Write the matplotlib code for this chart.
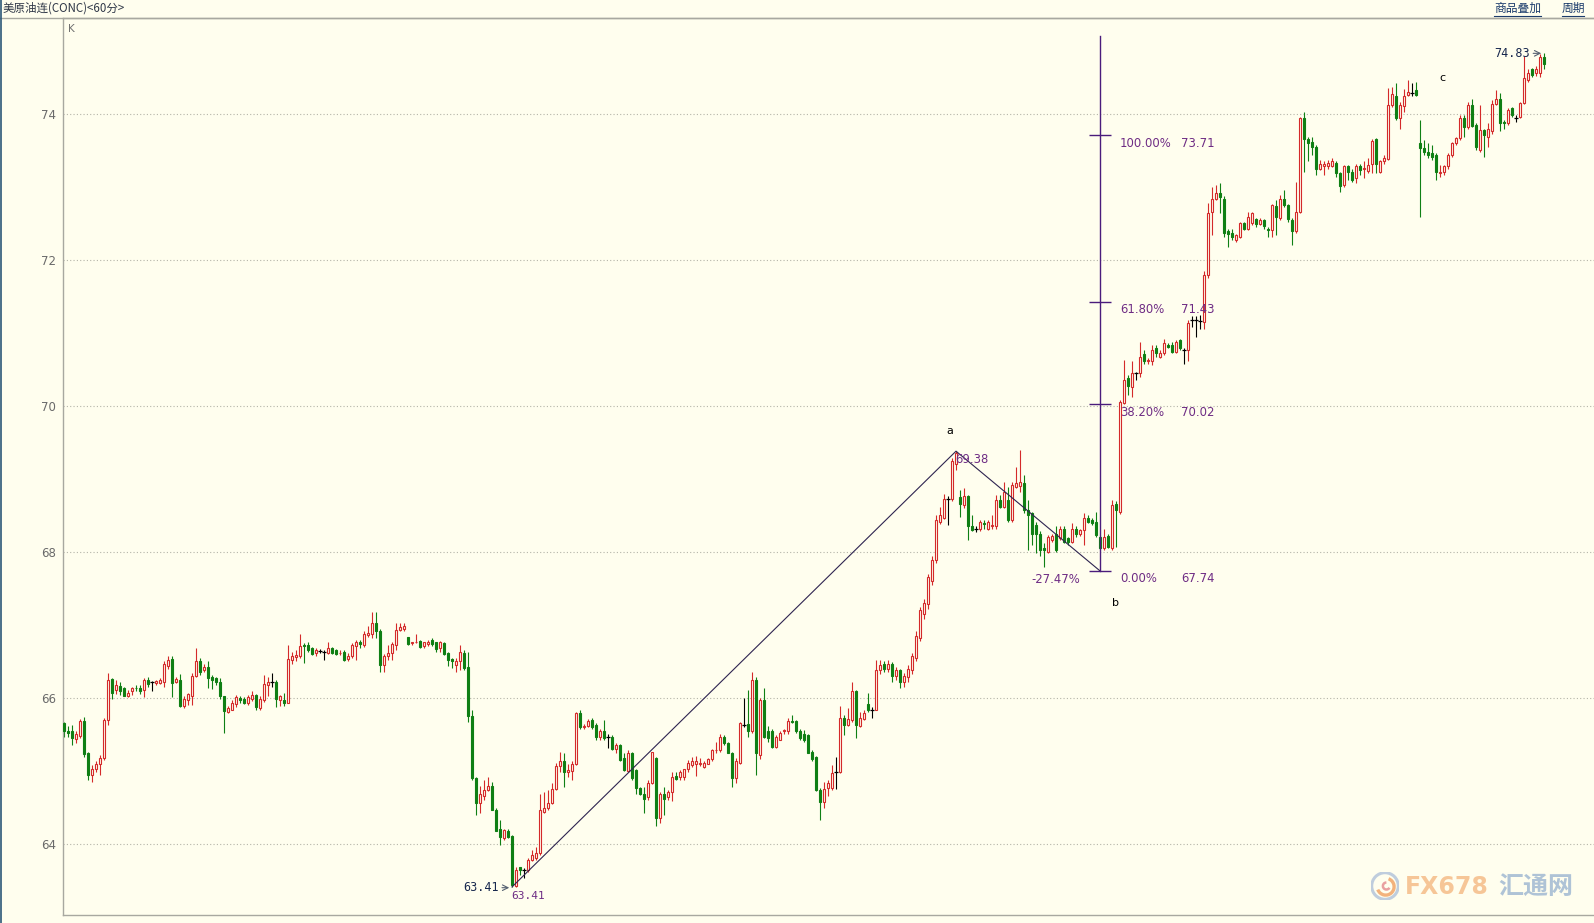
#!/usr/bin/env python3
"""
60-minute candles of US crude (CONC) with an a-b-c Fibonacci projection,
redrawn in the style of the trading terminal screenshot.
"""

import numpy as np
import matplotlib
matplotlib.use("Agg")
import matplotlib.pyplot as plt
from matplotlib.lines import Line2D
from matplotlib.patches import Arc, Circle

CJK = ["Noto Sans CJK SC", "DejaVu Sans"]

# OHLC of every 60-minute bar, left to right
OPEN = [
    65.66, 65.55, 65.54, 65.44, 65.48, 65.68, 65.25, 64.94, 65.02, 65.09,
    65.18, 65.70, 66.26, 66.11, 66.16, 66.13, 66.02, 66.09, 66.14, 66.14,
    66.11, 66.25, 66.22, 66.20, 66.21, 66.22, 66.44, 66.53, 66.22, 66.25,
    65.89, 65.97, 66.03, 66.30, 66.50, 66.38, 66.42, 66.28, 66.27, 66.22,
    66.02, 65.81, 65.83, 65.92, 66.00, 65.98, 65.93, 65.98, 66.04, 65.86,
    65.97, 66.18, 66.22, 66.22, 65.97, 65.97, 65.93, 66.52, 66.56, 66.57,
    66.72, 66.72, 66.68, 66.61, 66.64, 66.63, 66.62, 66.68, 66.65, 66.61,
    66.63, 66.53, 66.57, 66.71, 66.77, 66.72, 66.86, 66.88, 67.03, 66.92,
    66.45, 66.57, 66.61, 66.72, 66.93, 66.95, 66.83, 66.75, 66.76, 66.78,
    66.71, 66.74, 66.79, 66.76, 66.68, 66.75, 66.62, 66.53, 66.45, 66.50,
    66.62, 66.42, 65.75, 64.90, 64.56, 64.66, 64.74, 64.79, 64.47, 64.20,
    64.08, 64.18, 64.11, 63.42, 63.68, 63.64, 63.64, 63.78, 63.80, 63.87,
    64.44, 64.49, 64.56, 64.75, 65.07, 65.13, 64.98, 65.00, 65.09, 65.80,
    65.60, 65.62, 65.70, 65.63, 65.46, 65.54, 65.47, 65.47, 65.30, 65.35,
    65.17, 65.00, 65.25, 65.01, 64.76, 64.69, 64.64, 64.83, 65.17, 64.35,
    64.68, 64.64, 64.71, 64.93, 64.92, 64.91, 65.02, 65.08, 65.10, 65.10,
    65.06, 65.10, 65.16, 65.28, 65.28, 65.47, 65.38, 65.25, 64.90, 65.11,
    65.63, 65.64, 65.54, 66.25, 65.22, 65.97, 65.55, 65.55, 65.33, 65.43,
    65.54, 65.55, 65.69, 65.69, 65.55, 65.50, 65.49, 65.26, 65.19, 64.74,
    64.58, 64.76, 64.76, 64.99, 64.98, 65.72, 65.63, 65.70, 66.09, 65.62,
    65.71, 65.92, 65.84, 65.84, 66.38, 66.46, 66.40, 66.47, 66.30, 66.38,
    66.22, 66.28, 66.38, 66.55, 66.82, 67.15, 67.28, 67.60, 67.89, 68.41,
    68.47, 68.73, 68.72, 69.21, 68.75, 68.64, 68.76, 68.35, 68.31, 68.31,
    68.40, 68.32, 68.35, 68.35, 68.71, 68.62, 68.71, 68.44, 68.89, 68.90,
    68.94, 68.57, 68.53, 68.37, 68.24, 68.05, 68.00, 68.16, 68.25, 68.19,
    68.31, 68.19, 68.14, 68.32, 68.24, 68.30, 68.46, 68.44, 68.41, 68.21,
    68.05, 68.22, 68.05, 68.66, 68.55, 70.04, 70.38, 70.26, 70.45, 70.45,
    70.71, 70.61, 70.61, 70.79, 70.67, 70.72, 70.84, 70.84, 70.74, 70.90,
    70.77, 70.77, 71.18, 71.18, 71.17, 71.15, 71.80, 72.66, 72.84, 72.91,
    72.84, 72.39, 72.37, 72.27, 72.32, 72.51, 72.43, 72.51, 72.56, 72.49,
    72.55, 72.43, 72.41, 72.74, 72.57, 72.84, 72.75, 72.55, 72.39, 72.66,
    73.94, 73.66, 73.62, 73.55, 73.25, 73.29, 73.29, 73.28, 73.33, 73.19,
    73.03, 73.28, 73.21, 73.12, 73.28, 73.24, 73.22, 73.31, 73.65, 73.21,
    73.35, 73.38, 74.12, 74.25, 73.95, 74.11, 74.26, 74.28, 74.33, 73.60,
    73.53, 73.48, 73.46, 73.44, 73.19, 73.21, 73.28, 73.44, 73.60, 73.67,
    73.95, 73.82, 74.12, 73.85, 73.51, 73.78, 73.69, 73.77, 74.14, 74.21,
    73.89, 73.87, 74.08, 73.95, 73.96, 74.15, 74.46, 74.61, 74.56, 74.56,
    74.78,
]
HIGH = [
    65.67, 65.61, 65.63, 65.54, 65.71, 65.74, 65.26, 65.08, 65.13, 65.22,
    65.72, 66.34, 66.27, 66.25, 66.22, 66.15, 66.11, 66.15, 66.18, 66.18,
    66.27, 66.28, 66.23, 66.25, 66.27, 66.50, 66.57, 66.57, 66.28, 66.33,
    66.02, 66.07, 66.34, 66.69, 66.54, 66.46, 66.50, 66.31, 66.28, 66.27,
    66.03, 65.89, 65.97, 66.04, 66.03, 66.01, 66.04, 66.09, 66.06, 66.02,
    66.31, 66.28, 66.34, 66.25, 66.04, 66.07, 66.72, 66.63, 66.66, 66.88,
    66.75, 66.77, 66.70, 66.68, 66.67, 66.65, 66.77, 66.70, 66.67, 66.65,
    66.66, 66.61, 66.75, 66.79, 66.79, 66.92, 66.98, 67.17, 67.17, 66.94,
    66.60, 66.72, 66.77, 67.03, 67.02, 67.03, 66.84, 66.77, 66.88, 66.80,
    66.77, 66.79, 66.82, 66.77, 66.78, 66.76, 66.63, 66.54, 66.54, 66.72,
    66.65, 66.63, 65.83, 64.92, 64.80, 64.87, 64.92, 64.85, 64.49, 64.33,
    64.21, 64.20, 64.12, 63.68, 63.69, 63.67, 63.80, 63.92, 63.96, 64.69,
    64.71, 64.74, 64.83, 65.11, 65.26, 65.24, 65.10, 65.13, 65.81, 65.83,
    65.64, 65.71, 65.72, 65.65, 65.57, 65.70, 65.51, 65.49, 65.38, 65.37,
    65.24, 65.29, 65.26, 65.03, 64.78, 64.78, 64.88, 65.26, 65.19, 64.71,
    64.78, 64.74, 64.99, 64.99, 65.01, 65.03, 65.15, 65.19, 65.20, 65.17,
    65.13, 65.17, 65.30, 65.40, 65.50, 65.49, 65.40, 65.26, 65.17, 65.67,
    66.00, 66.11, 66.35, 66.29, 66.00, 66.13, 65.62, 65.57, 65.49, 65.55,
    65.58, 65.72, 65.77, 65.70, 65.58, 65.56, 65.51, 65.29, 65.20, 64.76,
    64.85, 64.88, 65.08, 65.19, 65.89, 65.77, 65.86, 66.22, 66.11, 65.81,
    65.83, 66.07, 65.88, 66.52, 66.52, 66.50, 66.52, 66.49, 66.42, 66.40,
    66.34, 66.45, 66.62, 66.92, 67.25, 67.35, 67.70, 67.95, 68.50, 68.62,
    68.80, 68.76, 69.28, 69.38, 68.85, 68.87, 68.78, 68.50, 68.36, 68.44,
    68.44, 68.44, 68.50, 68.78, 68.78, 68.96, 68.89, 68.96, 69.17, 69.40,
    69.05, 68.71, 68.55, 68.41, 68.28, 68.12, 68.23, 68.25, 68.35, 68.35,
    68.35, 68.21, 68.39, 68.35, 68.32, 68.53, 68.50, 68.47, 68.55, 68.23,
    68.32, 68.24, 68.71, 68.70, 70.08, 70.63, 70.42, 70.61, 70.47, 70.87,
    70.77, 70.65, 70.83, 70.83, 70.77, 70.91, 70.86, 70.88, 70.90, 70.91,
    70.79, 71.18, 71.23, 71.23, 71.25, 71.85, 72.78, 73.00, 73.03, 73.05,
    72.87, 72.43, 72.42, 72.36, 72.52, 72.52, 72.66, 72.66, 72.58, 72.57,
    72.56, 72.45, 72.77, 72.82, 72.89, 72.96, 72.77, 72.57, 73.07, 73.96,
    74.03, 73.69, 73.69, 73.57, 73.37, 73.35, 73.37, 73.39, 73.35, 73.21,
    73.30, 73.30, 73.25, 73.32, 73.32, 73.35, 73.39, 73.65, 73.67, 73.37,
    73.44, 74.35, 74.37, 74.42, 74.17, 74.34, 74.46, 74.42, 74.44, 73.92,
    73.64, 73.60, 73.57, 73.46, 73.30, 73.30, 73.46, 73.62, 73.69, 73.98,
    73.98, 74.17, 74.21, 73.87, 74.12, 73.80, 73.88, 74.19, 74.33, 74.28,
    73.92, 74.08, 74.10, 73.98, 74.17, 74.80, 74.62, 74.63, 74.66, 74.82,
    74.83,
]
LOW = [
    65.47, 65.47, 65.36, 65.38, 65.45, 65.19, 64.88, 64.85, 64.99, 64.94,
    65.15, 65.63, 65.99, 66.06, 66.04, 66.02, 66.01, 66.04, 66.09, 66.05,
    66.01, 66.15, 66.09, 66.18, 66.19, 66.15, 66.40, 66.01, 66.20, 65.87,
    65.86, 65.90, 65.90, 66.28, 66.31, 66.35, 66.13, 66.12, 66.18, 65.99,
    65.52, 65.80, 65.83, 65.88, 65.93, 65.92, 65.90, 65.96, 65.83, 65.83,
    65.95, 66.03, 66.15, 65.87, 65.89, 65.89, 65.93, 66.47, 66.50, 66.54,
    66.48, 66.63, 66.59, 66.57, 66.61, 66.52, 66.60, 66.60, 66.59, 66.59,
    66.51, 66.51, 66.54, 66.52, 66.68, 66.70, 66.84, 66.82, 66.82, 66.36,
    66.35, 66.52, 66.52, 66.66, 66.91, 66.92, 66.72, 66.72, 66.75, 66.68,
    66.69, 66.71, 66.71, 66.63, 66.63, 66.59, 66.44, 66.41, 66.36, 66.38,
    66.38, 65.67, 64.88, 64.40, 64.42, 64.60, 64.72, 64.46, 64.17, 63.98,
    64.05, 64.08, 63.41, 63.41, 63.57, 63.53, 63.62, 63.76, 63.78, 63.85,
    64.42, 64.46, 64.55, 64.74, 64.99, 64.78, 64.92, 64.88, 65.08, 65.58,
    65.58, 65.60, 65.58, 65.42, 65.43, 65.42, 65.32, 65.29, 65.24, 65.14,
    65.00, 64.99, 64.88, 64.69, 64.67, 64.42, 64.60, 64.82, 64.24, 64.28,
    64.40, 64.60, 64.59, 64.88, 64.88, 64.88, 64.99, 65.06, 64.93, 65.07,
    65.04, 65.09, 65.13, 65.25, 65.26, 65.35, 65.24, 64.78, 64.83, 65.10,
    65.60, 65.46, 65.52, 64.94, 65.16, 65.45, 65.40, 65.31, 65.32, 65.42,
    65.51, 65.51, 65.65, 65.52, 65.42, 65.40, 65.24, 65.13, 64.72, 64.33,
    64.49, 64.65, 64.74, 64.75, 64.97, 65.49, 65.61, 65.67, 65.45, 65.60,
    65.70, 65.81, 65.72, 65.83, 66.33, 66.35, 66.36, 66.22, 66.24, 66.14,
    66.15, 66.22, 66.33, 66.50, 66.78, 67.08, 67.22, 67.55, 67.85, 68.38,
    68.45, 68.37, 68.70, 69.12, 68.48, 68.60, 68.16, 68.28, 68.27, 68.28,
    68.31, 68.30, 68.32, 68.32, 68.60, 68.60, 68.41, 68.41, 68.87, 68.82,
    68.53, 68.03, 68.09, 67.98, 67.94, 67.80, 67.98, 68.14, 68.00, 68.16,
    68.12, 68.09, 68.12, 68.21, 68.22, 68.09, 68.39, 68.37, 68.21, 68.03,
    68.03, 68.05, 68.03, 68.07, 68.52, 70.03, 70.15, 70.12, 70.36, 70.40,
    70.58, 70.58, 70.56, 70.67, 70.66, 70.70, 70.79, 70.72, 70.72, 70.77,
    70.58, 70.61, 71.08, 70.95, 71.05, 71.05, 71.75, 72.34, 72.82, 72.64,
    72.32, 72.18, 72.27, 72.25, 72.30, 72.41, 72.41, 72.48, 72.45, 72.48,
    72.43, 72.32, 72.32, 72.34, 72.55, 72.73, 72.52, 72.20, 72.37, 72.64,
    73.21, 73.35, 73.44, 73.16, 73.23, 73.16, 73.25, 73.27, 73.14, 72.93,
    73.00, 73.09, 73.07, 73.05, 73.16, 73.12, 73.19, 73.19, 73.19, 73.19,
    73.32, 73.37, 74.10, 73.92, 73.80, 74.03, 74.24, 74.25, 74.24, 72.59,
    73.44, 73.39, 73.37, 73.09, 73.14, 73.16, 73.25, 73.41, 73.57, 73.64,
    73.69, 73.79, 73.82, 73.51, 73.48, 73.41, 73.55, 73.73, 74.12, 73.76,
    73.80, 73.85, 73.96, 73.89, 73.94, 74.14, 74.44, 74.50, 74.52, 74.50,
    74.62,
]
CLOSE = [
    65.54, 65.52, 65.45, 65.51, 65.68, 65.23, 64.94, 65.03, 65.10, 65.18,
    65.70, 66.25, 66.07, 66.18, 66.09, 66.03, 66.07, 66.14, 66.13, 66.09,
    66.24, 66.19, 66.22, 66.23, 66.24, 66.46, 66.52, 66.21, 66.26, 65.89,
    65.99, 66.05, 66.30, 66.50, 66.36, 66.43, 66.27, 66.25, 66.22, 66.03,
    65.82, 65.86, 65.93, 66.01, 65.97, 65.93, 66.01, 66.04, 65.87, 65.98,
    66.19, 66.22, 66.22, 65.98, 66.02, 65.93, 66.53, 66.57, 66.59, 66.71,
    66.71, 66.66, 66.60, 66.66, 66.64, 66.63, 66.68, 66.62, 66.60, 66.62,
    66.52, 66.57, 66.72, 66.77, 66.74, 66.88, 66.89, 67.02, 66.91, 66.45,
    66.57, 66.62, 66.74, 66.93, 66.97, 66.99, 66.74, 66.76, 66.77, 66.70,
    66.76, 66.77, 66.74, 66.67, 66.76, 66.60, 66.52, 66.50, 66.51, 66.63,
    66.41, 65.75, 64.90, 64.56, 64.69, 64.74, 64.79, 64.47, 64.18, 64.09,
    64.19, 64.10, 63.44, 63.64, 63.64, 63.64, 63.78, 63.85, 63.87, 64.46,
    64.49, 64.56, 64.75, 65.07, 65.13, 64.99, 65.01, 65.09, 65.79, 65.60,
    65.62, 65.69, 65.60, 65.46, 65.54, 65.45, 65.47, 65.30, 65.36, 65.15,
    65.01, 65.25, 64.90, 64.76, 64.68, 64.62, 64.83, 65.26, 64.35, 64.68,
    64.62, 64.71, 64.92, 64.89, 64.99, 65.02, 65.11, 65.13, 65.14, 65.11,
    65.11, 65.16, 65.28, 65.29, 65.46, 65.38, 65.25, 64.90, 65.14, 65.65,
    65.63, 65.54, 66.24, 65.24, 65.97, 65.47, 65.45, 65.33, 65.46, 65.52,
    65.56, 65.69, 65.67, 65.54, 65.45, 65.42, 65.25, 65.16, 64.74, 64.58,
    64.75, 64.83, 64.97, 64.99, 65.72, 65.63, 65.71, 66.09, 65.63, 65.72,
    65.80, 65.83, 65.84, 66.38, 66.45, 66.40, 66.47, 66.30, 66.38, 66.22,
    66.30, 66.40, 66.58, 66.85, 67.20, 67.30, 67.65, 67.89, 68.44, 68.50,
    68.72, 68.73, 69.24, 69.35, 68.66, 68.76, 68.35, 68.30, 68.31, 68.41,
    68.38, 68.41, 68.37, 68.71, 68.62, 68.82, 68.44, 68.92, 68.94, 68.96,
    68.57, 68.50, 68.25, 68.25, 68.03, 68.03, 68.20, 68.22, 68.03, 68.31,
    68.14, 68.14, 68.31, 68.25, 68.30, 68.47, 68.41, 68.39, 68.23, 68.05,
    68.21, 68.07, 68.64, 68.57, 70.06, 70.36, 70.27, 70.45, 70.45, 70.67,
    70.61, 70.63, 70.77, 70.72, 70.73, 70.86, 70.81, 70.74, 70.88, 70.79,
    70.77, 71.14, 71.18, 71.18, 71.17, 71.80, 72.64, 72.84, 72.91, 72.86,
    72.37, 72.35, 72.32, 72.34, 72.51, 72.42, 72.59, 72.64, 72.49, 72.55,
    72.46, 72.41, 72.75, 72.59, 72.84, 72.75, 72.56, 72.39, 72.65, 73.94,
    73.65, 73.60, 73.55, 73.25, 73.32, 73.31, 73.33, 73.36, 73.19, 73.01,
    73.28, 73.20, 73.09, 73.29, 73.23, 73.26, 73.30, 73.63, 73.31, 73.35,
    73.40, 74.12, 74.27, 73.95, 74.12, 74.25, 74.30, 74.28, 74.26, 73.53,
    73.48, 73.44, 73.41, 73.21, 73.21, 73.28, 73.44, 73.60, 73.67, 73.95,
    73.82, 74.12, 73.83, 73.55, 73.78, 73.71, 73.79, 74.14, 74.21, 73.88,
    73.87, 74.06, 73.99, 73.95, 74.15, 74.49, 74.56, 74.53, 74.62, 74.78,
    74.69,
]

Y_TICKS = [64, 66, 68, 70, 72, 74]

# a-b-c swing points: (bar index, price)
SWING_LOW = (112, 63.41)
SWING_A = (223, 69.38)
SWING_B = (259, 67.74)

FIB_PCT = ["100.00%", "61.80%", "38.20%", "0.00%"]
FIB_PRICE = [73.71, 71.43, 70.02, 67.74]

HEADER = "美原油连(CONC)<60分>"
MENU = ["商品叠加", "周期"]

BG = "#fffeee"
UP = "#d42a2a"
DOWN = "#0f7f14"
FIB_LINE = "#4a1c7c"
FIB_TEXT = "#6e2c84"
NAVY = "#18284e"

W, H = 1594, 923


def px(x, y):
    # pixel position (from top-left) -> figure fraction
    return x / W, 1 - y / H


def main():
    fig = plt.figure(figsize=(W / 100, H / 100), dpi=100)
    fig.patch.set_facecolor(BG)

    left, top, bottom = 63, 18, 915
    ax = fig.add_axes([left / W, 1 - bottom / H, 1 - left / W,
                       (bottom - top) / H])
    ax.set_facecolor(BG)

    o = np.array(OPEN)
    h = np.array(HIGH)
    lo = np.array(LOW)
    c = np.array(CLOSE)
    x = np.arange(len(o))

    up = c > o
    down = c < o
    flat = c == o

    # wicks
    for mask, col in ((up, UP), (down, DOWN), (flat, "black")):
        ax.vlines(x[mask], lo[mask], h[mask], color=col, lw=0.8, zorder=2)

    # bodies: hollow red for up bars, solid green for down bars
    ax.bar(x[up], (c - o)[up], bottom=o[up], width=0.62,
           facecolor=BG, edgecolor=UP, linewidth=0.8, zorder=3)
    ax.bar(x[down], (o - c)[down], bottom=c[down], width=0.62,
           facecolor=DOWN, edgecolor=DOWN, linewidth=0.8, zorder=3)
    ax.hlines(o[flat], x[flat] - 0.4, x[flat] + 0.4, color="black",
              lw=0.9, zorder=3)

    # swing lines low -> a -> b
    sx = [SWING_LOW[0], SWING_A[0], SWING_B[0]]
    sy = [SWING_LOW[1], SWING_A[1], SWING_B[1]]
    ax.plot(sx, sy, color="#2e2450", lw=0.8, zorder=4)

    # Fibonacci projection ruler
    fx = SWING_B[0]
    ax.plot([fx, fx], [SWING_B[1], 75.07], color=FIB_LINE, lw=1.0, zorder=4)
    ax.hlines(FIB_PRICE, fx - 2.7, fx + 2.7, color=FIB_LINE, lw=1.0,
              zorder=4)
    for pct, val in zip(FIB_PCT, FIB_PRICE):
        ax.text(264, val - 0.11, pct, color=FIB_TEXT, fontsize=8.4,
                va="center", ha="left", zorder=5)
        ax.text(279.3, val - 0.11, f"{val:.2f}", color=FIB_TEXT,
                fontsize=8.4, va="center", ha="left", zorder=5)

    ax.text(222.9, 69.27, f"{SWING_A[1]:.2f}", color=FIB_TEXT, fontsize=8.4,
            va="center", ha="left", zorder=5)
    ax.text(248, 67.62, "-27.47%", color=FIB_TEXT, fontsize=8.4,
            va="center", ha="center", zorder=5)
    ax.text(111.8, 63.29, f"{SWING_LOW[1]:.2f}", color=FIB_TEXT, fontsize=8,
            family="DejaVu Sans Mono", va="center", ha="left", zorder=5)

    ax.text(221.5, 69.65, "a", color="black", fontsize=8, ha="center",
            va="center")
    ax.text(262.8, 67.30, "b", color="black", fontsize=8, ha="center",
            va="center")
    ax.text(344.7, 74.49, "c", color="black", fontsize=8, ha="center",
            va="center")

    # max / min price markers
    ax.annotate("", xy=(112, 63.40), xytext=(108.8, 63.40),
                arrowprops=dict(arrowstyle="->", color="#556070", lw=0.8))
    ax.text(108.6, 63.40, f"{min(LOW):.2f}", color=NAVY, fontsize=8.5,
            family="DejaVu Sans Mono", ha="right", va="center")
    ax.annotate("", xy=(370, max(HIGH)), xytext=(366.6, max(HIGH)),
                arrowprops=dict(arrowstyle="->", color="#556070", lw=0.8))
    ax.text(366.4, max(HIGH), f"{max(HIGH):.2f}", color=NAVY, fontsize=8.5,
            family="DejaVu Sans Mono", ha="right", va="center")

    ax.set_xlim(-0.25, 382.5)
    ax.set_ylim(63.026, 75.314)
    ax.set_yticks(Y_TICKS)
    ax.set_yticklabels([str(v) for v in Y_TICKS])
    ax.set_xticks([])
    ax.tick_params(axis="y", length=0, pad=5, labelsize=8.5,
                   labelcolor="#6a6a6a")
    ax.grid(axis="y", color="#b4b4a8", linestyle=(0, (1, 2)), lw=0.8)
    ax.set_axisbelow(True)
    for side in ("left", "top", "bottom"):
        ax.spines[side].set_color("#a8a8a0")
        ax.spines[side].set_linewidth(1.0)
    ax.spines["right"].set_visible(False)

    ax.text(0.003, 0.988, "K", transform=ax.transAxes, fontsize=7.5,
            color="#707070", va="center", ha="left")

    # header strip
    fig.add_artist(Line2D([0, 1], [1 - top / H] * 2, color="#a8a8a0",
                          lw=1.0))
    fig.add_artist(Line2D([0.0005, 0.0005], [0, 1], color="#2c5878",
                          lw=1.2))
    fig.text(*px(3, 8.5), HEADER, family=CJK, fontsize=8.3,
             color="#303848", va="center", ha="left")
    for label, x0, x1 in ((MENU[0], 1494, 1541), (MENU[1], 1562, 1584)):
        fig.text(*px(x0, 8.5), label, family=CJK, fontsize=8.5,
                 color="#1c3c6c", va="center", ha="left")
        fig.add_artist(Line2D([x0 / W, x1 / W], [1 - 16 / H] * 2,
                              color="#1c3c6c", lw=0.8))

    # faded FX678 watermark
    logo = fig.add_axes([1371 / W, 1 - 900 / H, 28 / W, 28 / H])
    logo.set_xlim(-1, 1)
    logo.set_ylim(-1, 1)
    logo.axis("off")
    logo.add_patch(Circle((0, 0), 0.95, facecolor="none",
                          edgecolor="#b8c8dc", lw=2.2, alpha=0.9))
    logo.add_patch(Arc((0.05, -0.05), 1.2, 1.2, theta1=200, theta2=430,
                       color="#f3b27c", lw=2.4))
    logo.add_patch(Arc((0.1, 0.0), 0.5, 0.5, theta1=90, theta2=330,
                       color="#e9a0a0", lw=1.8))
    fig.text(*px(1405, 887), "FX678", fontsize=17, fontweight="bold",
             color="#f6c08e", alpha=0.9, va="center", ha="left")
    fig.text(*px(1498, 887), "汇通网", family=CJK, fontsize=18,
             fontweight="bold", color="#a6bdd4", alpha=0.9,
             va="center", ha="left")

    fig.savefig("out.png", dpi=100, facecolor=BG)
    plt.close(fig)


if __name__ == "__main__":
    main()
